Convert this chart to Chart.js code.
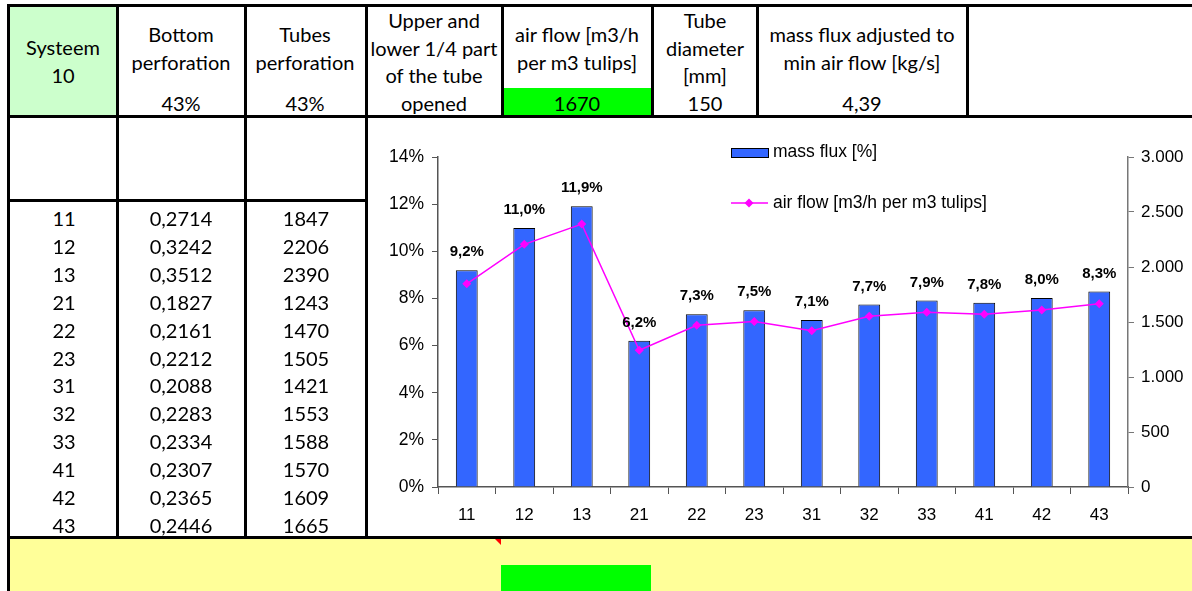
<!DOCTYPE html>
<html>
<head>
<meta charset="utf-8">
<script src="https://cdn.jsdelivr.net/npm/chart.js@4"></script>
<style>
  body { margin: 0; background: #fff; width: 1192px; height: 591px; overflow: hidden; position: relative; }
  .t { position: absolute; font-family: Lato, "Open Sans", sans-serif; font-size: 20px; line-height: 22px; color: #000; text-align: center; white-space: nowrap; width: 240px; }
  .b { position: absolute; background: #000; }
  .f { position: absolute; }
  #chartBox { position: absolute; left: 366px; top: 117px; width: 826px; height: 420px; background: #fff; }
</style>
</head>
<body>
<div class="f" style="left:8px;top:538px;width:1184px;height:53px;background:#ffff99"></div>
<div class="f" style="left:501px;top:565px;width:150px;height:26px;background:#00ff00"></div>
<div class="f" style="left:494px;top:538px;width:7px;height:7px;background:#ff0000;clip-path:polygon(0 0,100% 0,100% 100%)"></div>
<div class="f" style="left:9px;top:6px;width:108px;height:110px;background:#ccffcc"></div>
<div class="f" style="left:502px;top:88px;width:150px;height:28px;background:#00ff00"></div>
<div id="chartBox"><canvas id="myChart" width="826" height="420"></canvas></div>
<div id="cells"></div>
<script>
// table + chart data
var categories = ['11', '12', '13', '21', '22', '23', '31', '32', '33', '41', '42', '43'];
var massFluxKgs = [0.2714, 0.3242, 0.3512, 0.1827, 0.2161, 0.2212, 0.2088, 0.2283, 0.2334, 0.2307, 0.2365, 0.2446];
var airFlow = [1847, 2206, 2390, 1243, 1470, 1505, 1421, 1553, 1588, 1570, 1609, 1665];
var massFluxPct = [9.20, 10.99, 11.91, 6.20, 7.33, 7.50, 7.08, 7.74, 7.91, 7.82, 8.02, 8.29];

var headers = [
    { cx: 63,  lines: [['Systeem', 48], ['10', 76]] },
    { cx: 181, lines: [['Bottom', 35], ['perforation', 63], ['43%', 104]] },
    { cx: 305, lines: [['Tubes', 35], ['perforation', 63], ['43%', 104]] },
    { cx: 434, lines: [['Upper and', 21], ['lower 1/4 part', 49], ['of the tube', 76], ['opened', 104]] },
    { cx: 577, lines: [['air flow [m3/h', 35], ['per m3 tulips]', 63], ['1670', 104]] },
    { cx: 705, lines: [['Tube', 21], ['diameter', 49], ['[mm]', 76], ['150', 104]] },
    { cx: 862, lines: [['mass flux adjusted to', 35], ['min air flow [kg/s]', 63], ['4,39', 104]] }
];

var cells = document.getElementById('cells');

function addText(txt, cx, cy) {
    var d = document.createElement('div');
    d.className = 't';
    d.textContent = txt;
    d.style.left = (cx - 120) + 'px';
    d.style.top = (cy - 12) + 'px';
    cells.appendChild(d);
}

function addLine(x, y, w, h) {
    var d = document.createElement('div');
    d.className = 'b';
    d.style.left = x + 'px';
    d.style.top = y + 'px';
    d.style.width = w + 'px';
    d.style.height = h + 'px';
    cells.appendChild(d);
}

headers.forEach(function(h) {
    h.lines.forEach(function(l) { addText(l[0], h.cx, l[1]); });
});

for (var i = 0; i < categories.length; i++) {
    var cy = 219 + i * 27.9;
    addText(categories[i], 64, cy);
    addText(massFluxKgs[i].toFixed(4).replace('.', ','), 181, cy);
    addText(String(airFlow[i]), 306, cy);
}

// borders
addLine(8, 4, 1184, 3);
addLine(8, 115, 1184, 3);
addLine(8, 199, 358, 3);
addLine(8, 536, 1184, 3);
addLine(7, 4, 3, 587);
[116, 244, 365].forEach(function(x) { addLine(x, 4, 3, 534); });
[501, 651, 756, 966].forEach(function(x) { addLine(x, 4, 3, 113); });

function thousands(v) {
    return String(v).replace(/\B(?=(\d{3})+(?!\d))/g, '.');
}

var chartFont = 'Liberation Sans, Arial, sans-serif';

var barLabels = {
    id: 'barLabels',
    afterDatasetsDraw: function(chart) {
        var c = chart.ctx;
        var meta = chart.getDatasetMeta(0);
        c.save();
        c.font = 'bold 15px ' + chartFont;
        c.fillStyle = '#000';
        c.textAlign = 'center';
        c.textBaseline = 'middle';
        meta.data.forEach(function(bar, i) {
            var v = chart.data.datasets[0].data[i];
            c.fillText(v.toFixed(1).replace('.', ',') + '%', bar.x, bar.y - 18);
        });
        c.restore();
    }
};

var legendBox = {
    id: 'legendBox',
    afterDraw: function(chart) {
        var c = chart.ctx;
        var ds = chart.data.datasets;
        c.save();
        c.font = '17.5px ' + chartFont;
        c.textBaseline = 'middle';
        c.textAlign = 'left';
        // bars
        c.fillStyle = ds[0].backgroundColor;
        c.fillRect(365, 31, 37, 9);
        c.strokeStyle = '#000';
        c.lineWidth = 1;
        c.strokeRect(365.5, 31.5, 37, 9);
        c.fillStyle = '#000';
        c.fillText(ds[0].label, 407, 35);
        // line
        c.strokeStyle = ds[1].borderColor;
        c.lineWidth = 1.5;
        c.beginPath();
        c.moveTo(365, 86);
        c.lineTo(402, 86);
        c.stroke();
        c.fillStyle = ds[1].borderColor;
        c.beginPath();
        c.moveTo(383, 81.5);
        c.lineTo(387.5, 86);
        c.lineTo(383, 90.5);
        c.lineTo(378.5, 86);
        c.closePath();
        c.fill();
        c.fillStyle = '#000';
        c.fillText(ds[1].label, 407, 86);
        c.restore();
    }
};

var ctx = document.getElementById('myChart').getContext('2d');

var myChart = new Chart(ctx, {
    type: 'bar',
    data: {
        labels: categories,
        datasets: [
            {
                type: 'bar',
                label: 'mass flux [%]',
                data: massFluxPct,
                yAxisID: 'y',
                backgroundColor: '#3366ff',
                borderColor: '#000',
                borderWidth: 1,
                barPercentage: 0.38,
                categoryPercentage: 1,
                order: 2
            },
            {
                type: 'line',
                label: 'air flow [m3/h per m3 tulips]',
                data: airFlow,
                yAxisID: 'y2',
                borderColor: '#ff00ff',
                backgroundColor: '#ff00ff',
                borderWidth: 1.5,
                pointStyle: 'rectRot',
                pointRadius: 4.5,
                pointBorderWidth: 0,
                tension: 0,
                order: 1
            }
        ]
    },
    options: {
        responsive: false,
        animation: false,
        layout: {
            padding: { top: 40, left: 0, right: 0, bottom: 0 }
        },
        plugins: {
            legend: { display: false },
            tooltip: { enabled: false }
        },
        scales: {
            x: {
                grid: { drawOnChartArea: false, drawTicks: true, tickLength: 7, color: '#555', offset: true },
                border: { color: '#555', width: 1.5 },
                ticks: { color: '#000', font: { family: chartFont, size: 17 }, padding: 11, maxRotation: 0 },
                afterFit: function(s) { s.height = 50; }
            },
            y: {
                position: 'left',
                min: 0,
                max: 14,
                ticks: {
                    stepSize: 2,
                    color: '#000',
                    font: { family: chartFont, size: 17.5 },
                    padding: 8,
                    callback: function(v) { return v + '%'; }
                },
                grid: { drawOnChartArea: false, tickLength: 6, color: '#555' },
                border: { color: '#555', width: 1.5 },
                afterFit: function(s) { s.width = 72; }
            },
            y2: {
                position: 'right',
                min: 0,
                max: 3000,
                ticks: {
                    stepSize: 500,
                    color: '#000',
                    font: { family: chartFont, size: 17 },
                    padding: 7,
                    callback: function(v) { return thousands(v); }
                },
                grid: { drawOnChartArea: false, tickLength: 6, color: '#777' },
                border: { color: '#777', width: 1.5 },
                afterFit: function(s) { s.width = 64; }
            }
        }
    },
    plugins: [barLabels, legendBox]
});
</script>
</body>
</html>
